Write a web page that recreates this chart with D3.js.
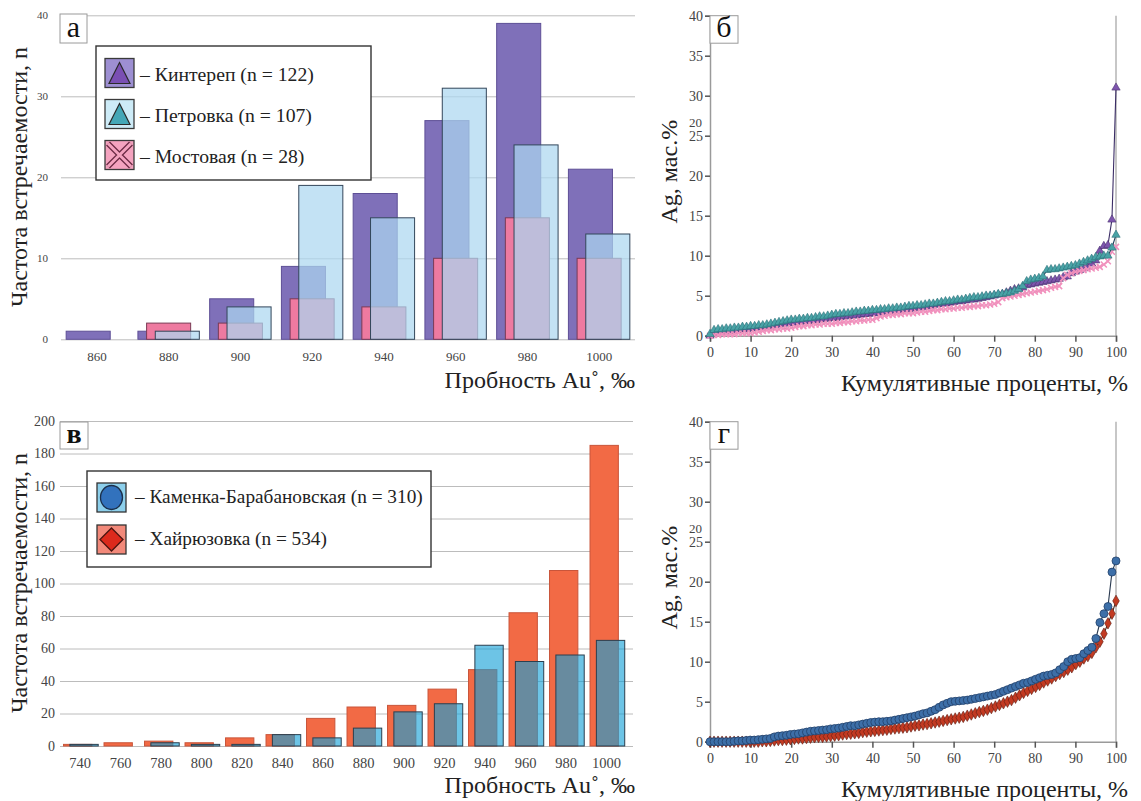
<!DOCTYPE html>
<html><head><meta charset="utf-8">
<script src="https://cdn.jsdelivr.net/npm/d3@7"></script>
<style>body{margin:0;background:#fff}</style>
</head><body><svg id="c" width="1141" height="801" style="font-family:'Liberation Serif','DejaVu Serif',serif"></svg>
<script>
// ---------- DATA ----------
const catsA = [860, 880, 900, 920, 940, 960, 980, 1000];
const kinterepHist = [1, 1, 5, 9, 18, 27, 39, 21];
const petrovkaHist = [0, 1, 4, 19, 15, 31, 24, 13];
const mostovayaHist = [0, 2, 2, 5, 4, 10, 15, 10];
const yTicksA = [0, 10, 20, 30, 40];
const legendA = ["– Кинтереп (n = 122)", "– Петровка (n = 107)", "– Мостовая (n = 28)"];

const catsV = [740, 760, 780, 800, 820, 840, 860, 880, 900, 920, 940, 960, 980, 1000];
const khairyuzovkaHist = [1, 2, 3, 2, 5, 7, 17, 24, 25, 35, 47, 82, 108, 185];
const kamenkaHist = [1, 0, 2, 1, 1, 7, 5, 11, 21, 26, 62, 52, 56, 65];
const yTicksV = [0, 20, 40, 60, 80, 100, 120, 140, 160, 180, 200];
const legendV = ["– Каменка-Барабановская (n = 310)", "– Хайрюзовка (n = 534)"];

const xTicksCum = [0, 10, 20, 30, 40, 50, 60, 70, 80, 90, 100];
const yTicksAg = [0, 5, 10, 15, 20, 25, 30, 35, 40];

// sorted Ag values (cumulative curves), panel б
const kinterepAg = [0.0,0.3,0.4,0.5,0.5,0.6,0.6,0.7,0.8,0.8,0.9,1.0,1.0,1.1,1.1,1.2,1.3,1.4,1.5,1.5,1.6,1.6,1.7,1.8,1.8,1.9,1.9,2.0,2.1,2.1,2.2,2.2,2.3,2.4,2.4,2.5,2.5,2.6,2.7,2.7,2.8,2.8,2.9,3.0,3.0,3.1,3.1,3.2,3.3,3.3,3.4,3.5,3.5,3.6,3.7,3.8,3.9,4.0,4.0,4.1,4.2,4.3,4.3,4.4,4.5,4.5,4.6,4.7,4.8,4.9,5.0,5.1,5.2,5.4,5.6,5.8,5.9,6.0,6.3,6.4,6.5,6.6,6.7,6.8,6.9,7.0,7.1,7.3,7.4,7.8,8.0,8.2,8.4,8.6,9.0,9.4,10.6,11.2,11.3,14.5,31.0];
const petrovkaAg = [0.2,0.7,0.8,0.8,0.9,0.9,1.0,1.0,1.1,1.1,1.2,1.2,1.3,1.3,1.4,1.5,1.6,1.7,1.8,1.9,2.0,2.0,2.1,2.1,2.2,2.2,2.3,2.4,2.4,2.5,2.6,2.7,2.7,2.8,2.8,2.9,3.0,3.0,3.1,3.1,3.2,3.2,3.3,3.3,3.4,3.4,3.5,3.5,3.6,3.7,3.7,3.8,3.8,3.9,4.0,4.0,4.1,4.2,4.3,4.3,4.4,4.5,4.5,4.6,4.7,4.8,4.8,4.9,5.0,5.0,5.1,5.2,5.2,5.3,5.4,5.6,5.8,6.2,6.8,7.0,7.1,7.2,7.4,8.2,8.3,8.3,8.4,8.5,8.6,8.7,8.8,9.0,9.2,9.4,9.6,9.8,9.9,10.0,10.0,11.0,12.6];
const mostovayaAg = [0.0,0.1,0.1,0.2,0.2,0.2,0.2,0.3,0.3,0.3,0.3,0.4,0.5,0.6,0.7,0.7,0.8,0.8,0.9,0.9,1.0,1.1,1.2,1.2,1.3,1.3,1.4,1.4,1.5,1.5,1.5,1.6,1.6,1.7,1.7,1.8,1.8,1.9,1.9,2.0,2.0,2.2,2.4,2.5,2.6,2.6,2.7,2.7,2.8,2.8,2.8,2.9,3.0,3.0,3.1,3.2,3.2,3.3,3.3,3.4,3.4,3.5,3.5,3.6,3.6,3.7,3.7,3.8,3.8,3.9,4.0,4.2,4.7,4.8,4.9,5.0,5.1,5.2,5.3,5.4,5.5,5.6,5.7,5.8,6.0,6.1,6.2,7.2,7.6,7.8,8.0,8.1,8.2,8.3,8.4,8.5,8.6,8.9,9.3,10.5,11.1];

// panel г
const kamenkaAg = [0.0,0.0,0.0,0.0,0.0,0.0,0.05,0.1,0.1,0.15,0.2,0.2,0.25,0.3,0.35,0.4,0.6,0.7,0.75,0.8,0.9,0.95,1.0,1.1,1.2,1.3,1.35,1.4,1.45,1.5,1.6,1.65,1.7,1.8,1.9,2.0,2.0,2.1,2.2,2.3,2.4,2.45,2.5,2.5,2.55,2.6,2.7,2.8,2.9,3.0,3.1,3.2,3.35,3.5,3.6,3.8,4.0,4.3,4.6,4.8,5.0,5.05,5.1,5.15,5.2,5.3,5.4,5.5,5.6,5.7,5.8,5.9,6.1,6.3,6.5,6.7,6.9,7.1,7.3,7.4,7.6,7.8,8.0,8.2,8.3,8.4,8.6,9.0,9.4,10.0,10.3,10.4,10.5,11.0,11.4,11.8,12.9,14.9,16.0,16.9,21.2,22.6];
const khairyuzovkaAg = [0,0,0,0,0,0,0,0,0,0,0,0,0,0.05,0.05,0.1,0.15,0.2,0.2,0.25,0.3,0.35,0.4,0.4,0.45,0.5,0.55,0.6,0.6,0.65,0.7,0.75,0.8,0.9,0.95,1.0,1.05,1.1,1.2,1.25,1.3,1.35,1.4,1.45,1.5,1.6,1.65,1.7,1.75,1.8,1.9,2.0,2.05,2.15,2.2,2.3,2.4,2.5,2.6,2.7,2.8,2.9,3.0,3.1,3.25,3.4,3.55,3.7,3.85,4.0,4.2,4.4,4.6,4.8,5.0,5.2,5.5,5.8,6.1,6.35,6.6,6.85,7.1,7.4,7.65,7.9,8.2,8.45,8.7,9.0,9.3,9.7,10.0,10.4,10.7,11.1,11.8,12.5,13.5,14.8,16.0,17.6];

// ---------- DRAW ----------
const FONT = "'Liberation Serif','DejaVu Serif',serif";
const svg = d3.select("#c");
svg.append("rect").attr("width", 1141).attr("height", 801).attr("fill", "#fff");

function T(sel) { return sel.attr("font-family", FONT).style("font-family", FONT); }
function styleAxis(g, fs, col) {
  g.attr("font-family", FONT);
  T(g.selectAll(".tick text").attr("font-size", fs).attr("fill", col || "#444"));
}
function labelBox(x, y, w, h, t, fs, bold) {
  svg.append("rect").attr("x", x).attr("y", y).attr("width", w).attr("height", h)
    .attr("fill", "#fff").attr("stroke", "#9a9a9a").attr("stroke-width", 1);
  T(svg.append("text")).attr("x", x + w / 2).attr("y", y + h - 6).attr("text-anchor", "middle")
    .attr("font-size", fs).attr("font-weight", bold ? "bold" : "normal").attr("fill", "#111").text(t);
}
function yTitle(x, y, t) {
  T(svg.append("text")).attr("transform", `translate(${x},${y}) rotate(-90)`).attr("text-anchor", "middle")
    .attr("font-size", 24).attr("fill", "#222").text(t);
}
function xTitle(x, y, t) {
  T(svg.append("text")).attr("x", x).attr("y", y).attr("text-anchor", "end")
    .attr("font-size", 24).attr("fill", "#222").text(t);
}

// ===== Panel а =====
const xA = d3.scaleBand().domain(catsA).range([61, 635]);
const yA = d3.scaleLinear().domain([0, 40]).range([339.3, 15.3]);
const gA = svg.append("g");
gA.append("g").attr("transform", "translate(61,0)")
  .call(d3.axisLeft(yA).tickValues(yTicksA).tickSize(-574).tickPadding(13))
  .call(g => g.select(".domain").remove())
  .call(g => g.selectAll(".tick line").attr("stroke", "#bcbcbc"))
  .call(g => styleAxis(g, 11, "#444"));
gA.append("g").attr("transform", `translate(0,${yA(0)})`)
  .call(d3.axisBottom(xA).tickSize(0).tickPadding(12))
  .call(g => g.select(".domain").remove())
  .call(g => styleAxis(g, 13, "#444"));

const bwA = xA.bandwidth();
function barsA(data, off, fill, stroke, op) {
  gA.append("g").selectAll("rect").data(data.map((v, i) => ({ c: catsA[i], v })).filter(d => d.v > 0))
    .join("rect")
    .attr("x", d => xA(d.c) + bwA / 2 + off * bwA - 0.307 * bwA)
    .attr("width", 0.614 * bwA)
    .attr("y", d => yA(d.v)).attr("height", d => yA(0) - yA(d.v))
    .attr("fill", fill).attr("fill-opacity", op).attr("stroke", stroke).attr("stroke-width", 1);
}
barsA(kinterepHist, -0.121, "#7f70b9", "#5e4f96", 1);
barsA(mostovayaHist, 0, "#ee7aa0", "#7a3b55", 1);
barsA(petrovkaHist, 0.121, "rgb(172,215,240)", "#33465a", 0.72);

labelBox(60, 14, 27, 29, "а", 30, false);
// legend а
svg.append("rect").attr("x", 96).attr("y", 46).attr("width", 275).attr("height", 134)
  .attr("fill", "#fff").attr("stroke", "#333").attr("stroke-width", 1.4);
const swA = [["#9d8fd2", "#7a4fb3"], ["#cdebf7", "#44a7b7"], ["#f4a3bf", "#f4a3bf"]];
legendA.forEach((t, i) => {
  const y0 = 58.5 + i * 41;
  svg.append("rect").attr("x", 105).attr("y", y0).attr("width", 29).attr("height", 29)
    .attr("fill", swA[i][0]).attr("stroke", "#3a3a3a").attr("stroke-width", 1.3);
  if (i < 2) {
    svg.append("path").attr("d", `M${119.5},${y0 + 4} L${130},${y0 + 25} L${109},${y0 + 25} Z`)
      .attr("fill", swA[i][1]).attr("stroke", "#2a2a2a").attr("stroke-width", 1.2);
  } else {
    const p = `M${108},${y0 + 3} L${131},${y0 + 26} M${131},${y0 + 3} L${108},${y0 + 26}`;
    svg.append("path").attr("d", p).attr("stroke", "#6b2a44").attr("stroke-width", 5.5).attr("fill", "none");
    svg.append("path").attr("d", p).attr("stroke", "#f4a3bf").attr("stroke-width", 3).attr("fill", "none");
  }
  T(svg.append("text")).attr("x", 140).attr("y", y0 + 22).attr("font-size", 19.7).attr("fill", "#222").text(t);
});
yTitle(27, 177, "Частота встречаемости, n");
xTitle(635, 388, "Пробность Au˚, ‰");

// ===== Panel в =====
const xV = d3.scaleBand().domain(catsV).range([59.75, 626.75]);
const yV = d3.scaleLinear().domain([0, 200]).range([746, 421]);
const gV = svg.append("g");
gV.append("g").attr("transform", "translate(60,0)")
  .call(d3.axisLeft(yV).tickValues(yTicksV).tickSize(-573).tickPadding(5))
  .call(g => g.select(".domain").remove())
  .call(g => g.selectAll(".tick line").attr("stroke", "#bcbcbc"))
  .call(g => styleAxis(g, 14, "#444"));
gV.append("g").attr("transform", `translate(0,${yV(0)})`)
  .call(d3.axisBottom(xV).tickSize(0).tickPadding(12))
  .call(g => g.select(".domain").remove())
  .call(g => styleAxis(g, 14.5, "#444"));
const bwV = xV.bandwidth();
function barsV(data, off, fill, stroke, op) {
  gV.append("g").selectAll("rect").data(data.map((v, i) => ({ c: catsV[i], v })).filter(d => d.v > 0))
    .join("rect")
    .attr("x", d => xV(d.c) + bwV / 2 + off * bwV - 0.35 * bwV)
    .attr("width", 0.7 * bwV)
    .attr("y", d => yV(d.v)).attr("height", d => yV(0) - yV(d.v))
    .attr("fill", fill).attr("fill-opacity", op).attr("stroke", stroke).attr("stroke-width", 1);
}
barsV(khairyuzovkaHist, -0.057, "#f26a45", "#c9553a", 1);
barsV(kamenkaHist, 0.1, "rgb(20,160,215)", "#2b3f4f", 0.62);

labelBox(60, 422, 28, 27, "в", 28, true);
svg.append("rect").attr("x", 87).attr("y", 471).attr("width", 344).attr("height", 96)
  .attr("fill", "#fff").attr("stroke", "#333").attr("stroke-width", 1.4);
legendV.forEach((t, i) => {
  const y0 = i === 0 ? 483 : 525;
  svg.append("rect").attr("x", 97).attr("y", y0).attr("width", 29).attr("height", 29)
    .attr("fill", i === 0 ? "#8ccfeb" : "#f2897a").attr("stroke", "#333").attr("stroke-width", 1.3);
  if (i === 0) {
    svg.append("ellipse").attr("cx", 111.5).attr("cy", y0 + 14.5).attr("rx", 11).attr("ry", 12)
      .attr("fill", "#3272bd").attr("stroke", "#1b2f4a").attr("stroke-width", 1.3);
  } else {
    svg.append("path").attr("d", `M111.5,${y0 + 3} L123,${y0 + 14.5} L111.5,${y0 + 26} L100,${y0 + 14.5} Z`)
      .attr("fill", "#dc2a1c").attr("stroke", "#4a1410").attr("stroke-width", 1.3);
  }
  T(svg.append("text")).attr("x", 135).attr("y", y0 + 20).attr("font-size", 19.3).attr("fill", "#222").text(t);
});
yTitle(27, 583, "Частота встречаемости, n");
xTitle(635, 793, "Пробность Au˚, ‰");

// ===== Panels б and г =====
function cumPanel(y0, y1, letter, series) {
  const x = d3.scaleLinear().domain([0, 100]).range([710, 1116]);
  const y = d3.scaleLinear().domain([0, 40]).range([y1, y0]);
  const g = svg.append("g");
  g.append("line").attr("x1", 1116).attr("x2", 1116).attr("y1", y0).attr("y2", y1)
    .attr("stroke", "#b5b5b5").attr("stroke-width", 1.5);
  g.append("g").attr("transform", "translate(710,0)")
    .call(d3.axisLeft(y).tickValues(yTicksAg).tickSize(5).tickPadding(2))
    .call(a => a.select(".domain").attr("stroke", "#9a9a9a").attr("stroke-width", 1.5))
    .call(a => a.selectAll(".tick line").attr("stroke", "#555").attr("stroke-width", 1.5))
    .call(a => styleAxis(a, 14, "#444"));
  g.append("g").attr("transform", `translate(0,${y1})`)
    .call(d3.axisBottom(x).tickValues(xTicksCum).tickSize(6).tickPadding(5))
    .call(a => a.select(".domain").attr("stroke", "#9a9a9a").attr("stroke-width", 1.5))
    .call(a => a.selectAll(".tick line").attr("stroke", "#555").attr("stroke-width", 1.5))
    .call(a => styleAxis(a, 14, "#444"));
  series.forEach(s => {
    const n = s.values.length;
    const pts = s.values.map((v, i) => [x(i / (n - 1) * 100), y(v)]);
    g.append("path").attr("d", d3.line()(pts)).attr("fill", "none")
      .attr("stroke", s.line).attr("stroke-width", 1.1);
    const sym = g.append("g");
    pts.forEach(p => {
      if (s.shape === "x") {
        sym.append("path").attr("d", `M${p[0] - 3},${p[1] - 3}L${p[0] + 3},${p[1] + 3}M${p[0] + 3},${p[1] - 3}L${p[0] - 3},${p[1] + 3}`)
          .attr("stroke", s.fill).attr("stroke-width", 1.5);
      } else if (s.shape === "circle") {
        sym.append("circle").attr("cx", p[0]).attr("cy", p[1]).attr("r", 4)
          .attr("fill", s.fill).attr("stroke", s.stroke).attr("stroke-width", 0.8);
      } else {
        const t = s.shape === "tri" ? d3.symbolTriangle : d3.symbolDiamond;
        sym.append("path").attr("transform", `translate(${p[0]},${p[1]})`)
          .attr("d", d3.symbol().type(t).size(s.size)())
          .attr("fill", s.fill).attr("stroke", s.stroke).attr("stroke-width", 0.6);
      }
    });
  });
  labelBox(710, y0, 28, 27.5, letter, 30, false);
  T(svg.append("text")).attr("x", 702).attr("y", y(25) - 9).attr("text-anchor", "end")
    .attr("font-size", 13).attr("fill", "#444").text("20");
  xTitle(1128, y1 + 55, "Кумулятивные проценты, %");
  yTitle(677, (y0 + y1) / 2 - 4, "Ag, мас.%");
}
cumPanel(15.7, 335.7, "б", [
  { values: kinterepAg, shape: "tri", size: 30, fill: "#7d55ad", stroke: "#4c3470", line: "#3b2d66" },
  { values: mostovayaAg, shape: "x", fill: "#f191bd", line: "#e88ab5" },
  { values: petrovkaAg, shape: "tri", size: 30, fill: "#49a3a6", stroke: "#2c6f78", line: "#1f3f5a" }
]);
cumPanel(421.7, 741.7, "г", [
  { values: khairyuzovkaAg, shape: "diamond", size: 38, fill: "#c23a22", stroke: "#5e1d12", line: "#4a2a20" },
  { values: kamenkaAg, shape: "circle", fill: "#3d6fa8", stroke: "#22406a", line: "#2a3a50" }
]);
</script></body></html>
